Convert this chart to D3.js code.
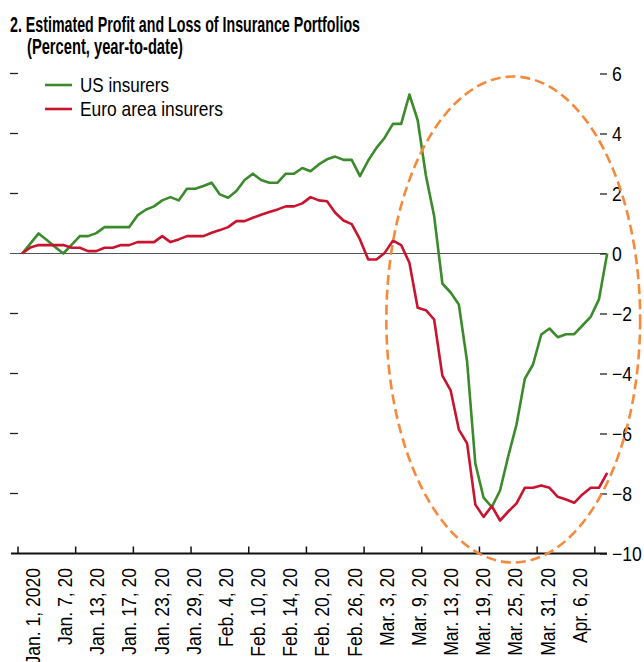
<!DOCTYPE html>
<html>
<head>
<meta charset="utf-8">
<script src="https://cdn.jsdelivr.net/npm/d3@7"></script>
<style>
  html, body { margin: 0; padding: 0; background: #fff; }
  svg { display: block; }
  text { font-family: "Liberation Sans", Arial, Helvetica, sans-serif; fill: #000; }
</style>
</head>
<body>
<svg id="chart" width="644" height="662"></svg>
<script>
// Daily observations, Jan. 1 – Apr. 9, 2020 (trading days)
const usInsurers = [
  0, 0.33, 0.67, 0.45, 0.22, 0, 0.29, 0.58, 0.58, 0.68,
  0.88, 0.88, 0.88, 0.88, 1.27, 1.46, 1.57, 1.77, 1.88, 1.77,
  2.16, 2.16, 2.25, 2.36, 1.97, 1.86, 2.08, 2.45, 2.66, 2.45,
  2.36, 2.36, 2.66, 2.66, 2.85, 2.74, 2.97, 3.14, 3.23, 3.12,
  3.12, 2.58, 3.1, 3.52, 3.86, 4.32, 4.32, 5.3, 4.45, 2.6,
  1.25, -1.0, -1.3, -1.7, -3.6, -7.0, -8.14, -8.45, -7.9, -6.75,
  -5.7, -4.18, -3.7, -2.7, -2.5, -2.79, -2.69, -2.69, -2.4, -2.11,
  -1.53, 0
];
const euroInsurers = [
  0, 0.2, 0.28, 0.28, 0.28, 0.28, 0.19, 0.19, 0.08, 0.08,
  0.19, 0.19, 0.28, 0.28, 0.38, 0.38, 0.38, 0.58, 0.38, 0.47,
  0.58, 0.58, 0.58, 0.69, 0.78, 0.88, 1.08, 1.08, 1.19, 1.29,
  1.38, 1.47, 1.57, 1.57, 1.67, 1.88, 1.77, 1.74, 1.36, 1.1,
  0.98, 0.47, -0.2, -0.2, 0.02, 0.43, 0.28, -0.31, -1.81, -1.89,
  -2.2, -4.07, -4.56, -5.87, -6.33, -8.37, -8.78, -8.42, -8.9, -8.6,
  -8.33, -7.81, -7.81, -7.73, -7.81, -8.11, -8.2, -8.31, -8.03, -7.81,
  -7.81, -7.31
];
const dateLabels = [
  "Jan. 1, 2020", "Jan. 7, 20", "Jan. 13, 20", "Jan. 17, 20", "Jan. 23, 20",
  "Jan. 29, 20", "Feb. 4, 20", "Feb. 10, 20", "Feb. 14, 20", "Feb. 20, 20",
  "Feb. 26, 20", "Mar. 3, 20", "Mar. 9, 20", "Mar. 13, 20", "Mar. 19, 20",
  "Mar. 25, 20", "Mar. 31, 20", "Apr. 6, 20"
];
const yTicks = [6, 4, 2, 0, -2, -4, -6, -8, -10];
const seriesNames = ["US insurers", "Euro area insurers"];
const seriesColors = ["#3b8a2c", "#c8142f"];

// Highlight ring around the March sell-off (index / percent units)
const ring = { cx: 59.6, cy: -2.2, rx: 15.4, ry: 8.1 };

const svg = d3.select("#chart");
const n = usInsurers.length;

const x = d3.scaleLinear().domain([-0.5, n - 0.5]).range([18, 611.3]);
const y = d3.scaleLinear().domain([-10, 6]).range([553.5, 73.5]);
const xLabel = d3.scalePoint().domain(dateLabels).range([33, 580]);

// Title
svg.append("text")
  .attr("x", 10).attr("y", 31.5)
  .attr("font-size", 21.5).attr("font-weight", "bold")
  .attr("textLength", 350).attr("lengthAdjust", "spacingAndGlyphs")
  .text("2. Estimated Profit and Loss of Insurance Portfolios");
svg.append("text")
  .attr("x", 27).attr("y", 54)
  .attr("font-size", 21.5).attr("font-weight", "bold")
  .attr("textLength", 156).attr("lengthAdjust", "spacingAndGlyphs")
  .text("(Percent, year-to-date)");

// Left tick marks (unlabelled)
const g = svg.append("g");
g.selectAll("line.lt").data(yTicks.filter(v => v !== 0 && v !== -10)).join("line")
  .attr("class", "lt")
  .attr("x1", 10).attr("x2", 18)
  .attr("y1", d => y(d)).attr("y2", d => y(d))
  .attr("stroke", "#222").attr("stroke-width", 1.3);

// Zero line
g.append("line")
  .attr("x1", 10).attr("x2", 607)
  .attr("y1", y(0)).attr("y2", y(0))
  .attr("stroke", "#555").attr("stroke-width", 1.2);

// Right axis
const yAxis = d3.axisRight(y).tickValues(yTicks).tickSize(7).tickPadding(6)
  .tickFormat(d => d < 0 ? "\u2212" + Math.abs(d) : String(d));
const ya = svg.append("g").attr("transform", "translate(600,0)").call(yAxis);
ya.select(".domain").remove();
ya.selectAll(".tick line").attr("stroke", "#222").attr("stroke-width", 1.3);
ya.selectAll(".tick text")
  .attr("font-size", 20).attr("fill", "#000")
  .attr("font-family", "'Liberation Sans', Arial, sans-serif")
  .attr("x", 0).attr("dy", "0.35em")
  .attr("transform", "translate(12,0) scale(0.88,1)");

// Bottom axis with category-boundary ticks every 7 observations
const tickIdx = d3.range(0, 11).map(k => -0.5 + 7 * k);
svg.append("line")
  .attr("x1", 11).attr("x2", 607)
  .attr("y1", y(-10)).attr("y2", y(-10))
  .attr("stroke", "#111").attr("stroke-width", 1.8);
svg.selectAll("line.bt").data(tickIdx).join("line")
  .attr("class", "bt")
  .attr("x1", d => x(d)).attr("x2", d => x(d))
  .attr("y1", y(-10)).attr("y2", y(-10) - 7)
  .attr("stroke", "#111").attr("stroke-width", 1.5);

svg.selectAll("text.xl").data(dateLabels).join("text")
  .attr("class", "xl")
  .attr("font-size", 19.5)
  .attr("text-anchor", "end")
  .attr("dy", "0.35em")
  .attr("transform", d => `translate(${xLabel(d)},568) rotate(-90) scale(0.9,1)`)
  .text(d => d);

// Series lines
const line = d3.line().x((d, i) => x(i)).y(d => y(d));
[usInsurers, euroInsurers].forEach((s, k) => {
  svg.append("path")
    .datum(s)
    .attr("fill", "none")
    .attr("stroke", seriesColors[k])
    .attr("stroke-width", 2.6)
    .attr("stroke-linejoin", "round")
    .attr("d", line);
});

// Highlight ring
svg.append("ellipse")
  .attr("cx", x(ring.cx)).attr("cy", y(ring.cy))
  .attr("rx", x(ring.cx + ring.rx) - x(ring.cx))
  .attr("ry", y(ring.cy - ring.ry) - y(ring.cy))
  .attr("fill", "none")
  .attr("stroke", "#f58a3c")
  .attr("stroke-width", 2.6)
  .attr("stroke-dasharray", "10 5");

// Legend
const legendW = [89, 143];
seriesNames.forEach((name, k) => {
  const ly = 85 + k * 24;
  svg.append("line")
    .attr("x1", 45).attr("x2", 72).attr("y1", ly).attr("y2", ly)
    .attr("stroke", seriesColors[k]).attr("stroke-width", 2.6);
  svg.append("text")
    .attr("x", 80).attr("y", ly + 7)
    .attr("font-size", 21)
    .attr("textLength", legendW[k]).attr("lengthAdjust", "spacingAndGlyphs")
    .text(name);
});
</script>
</body>
</html>
